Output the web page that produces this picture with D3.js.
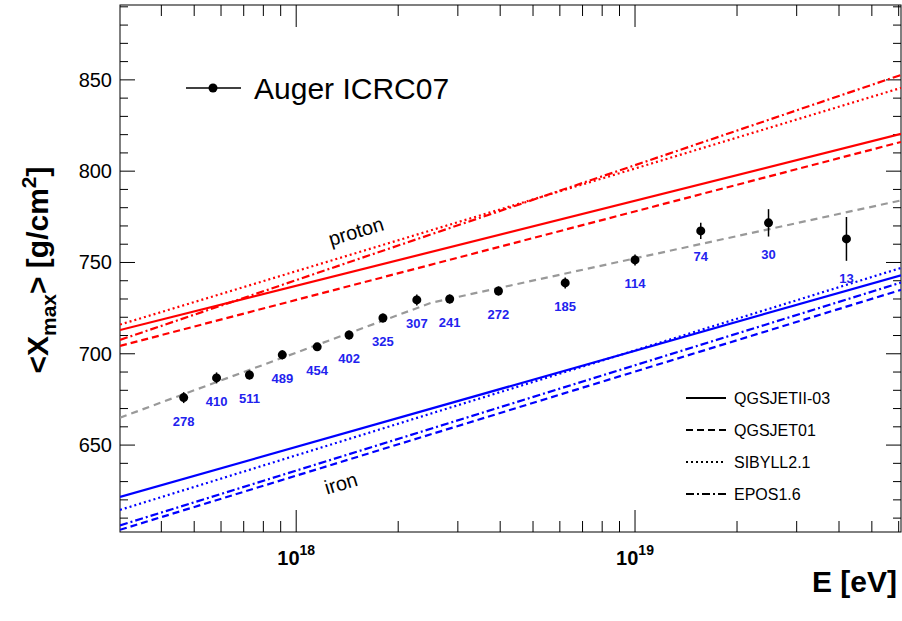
<!DOCTYPE html>
<html><head><meta charset="utf-8">
<script src="https://cdn.jsdelivr.net/npm/d3@7"></script>
<style>body{margin:0;background:#fff}text{font-family:"Liberation Sans",Arial,sans-serif}</style>
</head><body><div id="grafico"></div>
<script>
// data: log10(E/eV), <Xmax>, error, number of events
const logE = [17.668,17.765,17.862,17.959,18.062,18.156,18.256,18.356,18.453,18.597,18.794,19.0,19.194,19.394,19.624];
const xmax = [676,686.8,688.4,699.4,703.8,710.3,719.6,729.5,730,734.4,738.8,751.4,767.3,771.7,762.9];
const xerr = [3,3,2.5,2.5,2,2.5,2.5,3,2.5,2.5,3,3,4.5,7.5,12];
const nev = [278,410,511,489,454,402,325,307,241,272,185,114,74,30,13];
const fitLine = [[17.48,665],[18.4,728],[19.785,784]];
// model lines [Xmax at left, Xmax at right]
const models = ["QGSJETII-03","QGSJET01","SIBYLL2.1","EPOS1.6"];
const proton = [[713,820.4],[704.3,816],[716,845.6],[707.6,852.7]];
const iron = [[621.6,743],[603.6,735],[614.5,747],[606,739]];
const dashes = [null,"7,4","2,3","8,3,2,3"];

const W=902,H=621, m={l:120,r:0,t:5,b:89};
const svg=d3.select("#grafico").append("svg").attr("width",W).attr("height",H);
const x=d3.scaleLinear().domain([17.48,19.785]).range([m.l,W-m.r-1]);
const y=d3.scaleLinear().domain([602.4,891]).range([H-m.b,m.t]);
const x0=m.l,x1=W-m.r-1,y0=H-m.b,y1=m.t;

// frame
svg.append("rect").attr("x",x0).attr("y",y1).attr("width",x1-x0).attr("height",y0-y1).attr("fill","none").attr("stroke","#000");
const g=svg.append("g");
// y ticks
d3.range(610,891,10).forEach(v=>{
  const L=v%50===0?15:8;
  g.append("line").attr("x1",x0).attr("x2",x0+L).attr("y1",y(v)).attr("y2",y(v)).attr("stroke","#000");
  g.append("line").attr("x1",x1).attr("x2",x1-L).attr("y1",y(v)).attr("y2",y(v)).attr("stroke","#000");
  if(v%50===0) g.append("text").attr("x",x0-8).attr("y",y(v)+7).attr("text-anchor","end").attr("font-size",20).text(v);
});
// x ticks
[17,18,19].forEach(d=>{
  for(let k=1;k<10;k++){
    const lv=d+Math.log10(k);
    if(lv<17.48||lv>19.785) continue;
    const L=k===1?22:11;
    g.append("line").attr("x1",x(lv)).attr("x2",x(lv)).attr("y1",y0).attr("y2",y0-L).attr("stroke","#000");
    g.append("line").attr("x1",x(lv)).attr("x2",x(lv)).attr("y1",y1).attr("y2",y1+L).attr("stroke","#000");
    if(k===1){
      const t=g.append("text").attr("x",x(lv)).attr("y",y0+33).attr("text-anchor","middle").attr("font-size",20).attr("font-weight","bold");
      t.append("tspan").text("10");
      t.append("tspan").attr("dy",-10).attr("font-size",14).text(d);
    }
  }
});

const clip=svg.append("clipPath").attr("id","c").append("rect").attr("x",x0).attr("y",y1).attr("width",x1-x0).attr("height",y0-y1);
const pl=svg.append("g").attr("clip-path","url(#c)");
const line=d3.line().x(d=>x(d[0])).y(d=>y(d[1]));
[[proton,"#ff0000"],[iron,"#0000ff"]].forEach(([set,c])=>{
  set.forEach((v,i)=>pl.append("path").attr("d",line([[17.48,v[0]],[19.785,v[1]]])).attr("fill","none")
    .attr("stroke",c).attr("stroke-width",2.2).attr("stroke-dasharray",dashes[i]));
});
pl.append("path").attr("d",line(fitLine)).attr("fill","none").attr("stroke","#999").attr("stroke-width",2.2).attr("stroke-dasharray","7,5");

// data points
logE.forEach((e,i)=>{
  svg.append("line").attr("x1",x(e)).attr("x2",x(e)).attr("y1",y(xmax[i]-xerr[i])).attr("y2",y(xmax[i]+xerr[i])).attr("stroke","#000").attr("stroke-width",1.5);
  svg.append("circle").attr("cx",x(e)).attr("cy",y(xmax[i])).attr("r",4.5).attr("fill","#000");
  svg.append("text").attr("x",x(e)).attr("y",y(xmax[i])+Math.max(xerr[i]*1.83,6)+22).attr("text-anchor","middle")
    .attr("font-size",13).attr("font-weight","bold").attr("fill","#2222ee").text(nev[i]);
});

svg.append("text").attr("transform","translate(358,238) rotate(-17)").attr("text-anchor","middle").attr("font-size",20).text("proton");
svg.append("text").attr("transform","translate(343,490) rotate(-17)").attr("text-anchor","middle").attr("font-size",20).text("iron");

// legends
svg.append("line").attr("x1",186).attr("x2",241).attr("y1",88).attr("y2",88).attr("stroke","#000").attr("stroke-width",1.5);
svg.append("circle").attr("cx",213).attr("cy",88).attr("r",4.5);
svg.append("text").attr("x",254).attr("y",99).attr("font-size",30).text("Auger ICRC07");
models.forEach((n,i)=>{
  const ly=398+i*32;
  svg.append("line").attr("x1",686).attr("x2",726).attr("y1",ly).attr("y2",ly).attr("stroke","#000").attr("stroke-width",2.2).attr("stroke-dasharray",dashes[i]);
  svg.append("text").attr("x",734).attr("y",ly+6).attr("font-size",16).text(n);
});

// axis titles
const yt=svg.append("text").attr("transform","translate(48,270) rotate(-90)").attr("text-anchor","middle").attr("font-size",30).attr("font-weight","bold");
yt.append("tspan").text("<X");
yt.append("tspan").attr("dy",8).attr("font-size",21).text("max");
yt.append("tspan").attr("dy",-8).text("> [g/cm");
yt.append("tspan").attr("dy",-12).attr("font-size",21).text("2");
yt.append("tspan").attr("dy",12).text("]");
svg.append("text").attr("x",897).attr("y",592).attr("text-anchor","end").attr("font-size",30).attr("font-weight","bold").text("E [eV]");
</script></body></html>
